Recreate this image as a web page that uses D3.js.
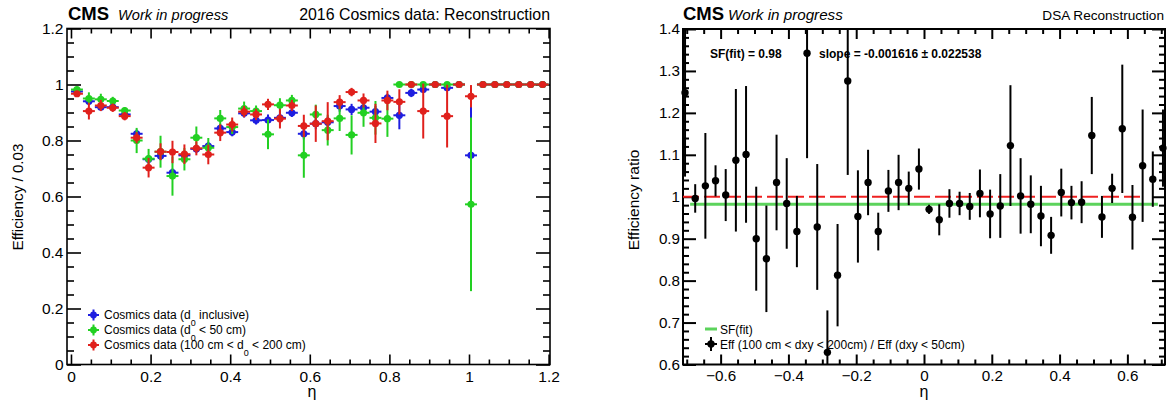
<!DOCTYPE html>
<html>
<head>
<meta charset="utf-8">
<script src="https://cdn.jsdelivr.net/npm/d3@7"></script>
<style>
  html, body { margin: 0; padding: 0; background: #fff; }
  svg text { font-family: "Liberation Sans", Arial, Helvetica, sans-serif; }
</style>
</head>
<body>
<svg id="fig" width="1172" height="405"></svg>
<script>
// ---------- left panel: cosmic reconstruction efficiency per 0.03 in eta ----------
const etaLeft = [0.015, 0.045, 0.075, 0.105, 0.135, 0.165, 0.195, 0.225, 0.255, 0.285,
                 0.315, 0.345, 0.375, 0.405, 0.435, 0.465, 0.495, 0.525, 0.555, 0.585,
                 0.615, 0.645, 0.675, 0.705, 0.735, 0.765, 0.795, 0.825, 0.855, 0.885,
                 0.915, 0.945, 0.975, 1.005, 1.035, 1.065, 1.095, 1.125, 1.155, 1.185];
const binHalfWidth = 0.015;

// d0 inclusive
const effInclusive = [0.975, 0.940, 0.919, 0.919, 0.893, 0.824, 0.733, 0.745, 0.685, 0.747,
                      0.770, 0.780, 0.843, 0.830, 0.897, 0.872, 0.873, 0.881, 0.899, 0.824,
                      0.860, 0.865, 0.923, 0.911, 0.917, 0.903, 0.952, 0.890, 0.970, 0.982,
                      1.000, 0.988, 1.000, 0.747, 1.000, 1.000, 1.000, 1.000, 1.000, 1.000];
const errInclusive = [0.008, 0.010, 0.010, 0.010, 0.010, 0.015, 0.015, 0.015, 0.015, 0.015,
                      0.015, 0.015, 0.015, 0.015, 0.015, 0.015, 0.020, 0.020, 0.015, 0.020,
                      0.020, 0.020, 0.020, 0.020, 0.020, 0.020, 0.015, 0.050, 0.015, 0.012,
                      0.000, 0.010, 0.000, 0.200, 0.000, 0.000, 0.000, 0.000, 0.000, 0.000];
// d0 < 50 cm
const effNear = [0.982, 0.950, 0.947, 0.941, 0.907, 0.800, 0.735, 0.760, 0.673, 0.733,
                 0.810, 0.774, 0.879, 0.848, 0.914, 0.905, 0.822, 0.926, 0.943, 0.747,
                 0.893, 0.837, 0.879, 0.820, 0.899, 0.881, 0.878, 1.000, 1.000, 1.000,
                 1.000, 1.000, 1.000, 0.572, 1.000, 1.000, 1.000, 1.000, 1.000, 1.000];
const errNear = [0.010, 0.022, 0.020, 0.015, 0.012, 0.045, 0.035, 0.057, 0.070, 0.040,
                 0.040, 0.035, 0.030, 0.025, 0.025, 0.020, 0.053, 0.025, 0.020, 0.080,
                 0.035, 0.055, 0.045, 0.070, 0.050, 0.060, 0.065, 0.000, 0.000, 0.000,
                 0.000, 0.000, 0.000, 0.310, 0.000, 0.000, 0.000, 0.000, 0.000, 0.000];
// 100 cm < d0 < 200 cm
const effFar = [0.967, 0.905, 0.925, 0.917, 0.887, 0.810, 0.703, 0.760, 0.759, 0.751,
                0.772, 0.750, 0.828, 0.857, 0.903, 0.893, 0.929, 0.878, 0.925, 0.852,
                0.860, 0.869, 0.937, 0.973, 0.943, 0.861, 0.943, 0.938, 1.000, 0.905,
                1.000, 0.887, 1.000, 0.958, 1.000, 1.000, 1.000, 1.000, 1.000, 1.000];
const errFar = [0.010, 0.030, 0.020, 0.015, 0.015, 0.020, 0.035, 0.030, 0.040, 0.035,
                0.025, 0.035, 0.030, 0.025, 0.020, 0.020, 0.020, 0.035, 0.020, 0.040,
                0.065, 0.068, 0.025, 0.015, 0.025, 0.070, 0.035, 0.045, 0.000, 0.098,
                0.000, 0.112, 0.000, 0.040, 0.000, 0.000, 0.000, 0.000, 0.000, 0.000];

const xTicksLeft = [0, 0.2, 0.4, 0.6, 0.8, 1, 1.2];
const yTicksLeft = [0, 0.2, 0.4, 0.6, 0.8, 1, 1.2];

// ---------- right panel: efficiency ratio far / near ----------
const etaRight = [-0.705, -0.675, -0.645, -0.615, -0.585, -0.555, -0.525, -0.495, -0.465, -0.435,
                  -0.405, -0.375, -0.345, -0.315, -0.285, -0.255, -0.225, -0.195, -0.165, -0.135,
                  -0.105, -0.075, -0.045, -0.015, 0.015, 0.045, 0.075, 0.105, 0.135, 0.165,
                  0.195, 0.225, 0.255, 0.285, 0.315, 0.345, 0.375, 0.405, 0.435, 0.465,
                  0.495, 0.525, 0.555, 0.585, 0.615, 0.645, 0.675, 0.705];
const ratio = [1.248, 0.996, 1.026, 1.038, 1.004, 1.087, 1.101, 0.900, 0.852, 1.034,
               0.984, 0.917, 1.342, 0.928, 0.629, 0.813, 1.276, 0.953, 1.034, 0.917,
               1.014, 1.034, 1.020, 1.066, 0.970, 0.945, 0.984, 0.984, 0.977, 1.008,
               0.959, 0.978, 1.122, 1.002, 0.982, 0.954, 0.908, 1.010, 0.986, 0.987,
               1.146, 0.952, 1.020, 1.162, 0.951, 1.074, 1.042, 1.116];
const ratioErr = [0.200, 0.034, 0.126, 0.037, 0.062, 0.170, 0.163, 0.124, 0.127, 0.114,
                  0.108, 0.085, 0.250, 0.150, 0.100, 0.122, 0.224, 0.110, 0.078, 0.045,
                  0.050, 0.066, 0.040, 0.049, 0.011, 0.037, 0.034, 0.028, 0.032, 0.057,
                  0.058, 0.076, 0.144, 0.090, 0.069, 0.072, 0.044, 0.057, 0.040, 0.050,
                  0.092, 0.050, 0.035, 0.153, 0.077, 0.134, 0.066, 0.092];
const sfFit = 0.98;
const sfFitLine = 0.982;
const sfRange = [-0.69, 0.69];
const unityRange = [-0.711, 0.64];

const xTicksRight = [-0.6, -0.4, -0.2, 0, 0.2, 0.4, 0.6];
const yTicksRight = [0.6, 0.7, 0.8, 0.9, 1, 1.1, 1.2, 1.3, 1.4];

// ---------- drawing ----------
const FONT = '"Liberation Sans", Arial, Helvetica, sans-serif';
const svg = d3.select("#fig");

const xL = d3.scaleLinear().domain([-0.01, 1.2035]).range([67, 550]);
const yL = d3.scaleLinear().domain([0, 1.2]).range([364.5, 28.5]).clamp(true);
const xR = d3.scaleLinear().domain([-0.711, 0.711]).range([683, 1165]);
const yR = d3.scaleLinear().domain([0.6, 1.4]).range([364.5, 29]).clamp(true);

function minorTicks(lo, hi, step, major) {
  return d3.range(lo, hi + step / 2, step)
    .filter(v => major.every(m => Math.abs(v - m) > step / 4));
}

function drawAxes(g, x, y, c) {
  const [yb, yt] = y.range();
  const [xl, xr] = x.range();
  const tidy = s => {
    s.select(".domain").remove();
    s.selectAll(".tick line").attr("stroke", "#000").attr("stroke-width", c.lw);
    s.selectAll(".tick text").attr("font-size", c.fs).attr("fill", "#000")
      .style("font-family", FONT);
  };
  const fmt = d3.format("");
  // bottom
  g.append("g").attr("transform", `translate(0,${yb})`)
    .call(d3.axisBottom(x).tickValues(c.xMajor).tickSizeInner(-c.xMaj).tickSizeOuter(0)
      .tickPadding(c.xPad).tickFormat(fmt)).call(tidy);
  g.append("g").attr("transform", `translate(0,${yb})`)
    .call(d3.axisBottom(x).tickValues(c.xMinor).tickSizeInner(-c.xMin).tickSizeOuter(0)
      .tickFormat("")).call(tidy);
  // top
  g.append("g").attr("transform", `translate(0,${yt})`)
    .call(d3.axisTop(x).tickValues(c.xMajor).tickSizeInner(-c.xMaj).tickSizeOuter(0)
      .tickFormat("")).call(tidy);
  g.append("g").attr("transform", `translate(0,${yt})`)
    .call(d3.axisTop(x).tickValues(c.xMinor).tickSizeInner(-c.xMin).tickSizeOuter(0)
      .tickFormat("")).call(tidy);
  // left
  g.append("g").attr("transform", `translate(${xl},0)`)
    .call(d3.axisLeft(y).tickValues(c.yMajor).tickSizeInner(-c.yMaj).tickSizeOuter(0)
      .tickPadding(c.yPad).tickFormat(fmt)).call(tidy);
  g.append("g").attr("transform", `translate(${xl},0)`)
    .call(d3.axisLeft(y).tickValues(c.yMinor).tickSizeInner(-c.yMin).tickSizeOuter(0)
      .tickFormat("")).call(tidy);
  // right
  g.append("g").attr("transform", `translate(${xr},0)`)
    .call(d3.axisRight(y).tickValues(c.yMajor).tickSizeInner(-c.yMaj).tickSizeOuter(0)
      .tickFormat("")).call(tidy);
  g.append("g").attr("transform", `translate(${xr},0)`)
    .call(d3.axisRight(y).tickValues(c.yMinor).tickSizeInner(-c.yMin).tickSizeOuter(0)
      .tickFormat("")).call(tidy);
  // frame
  g.append("rect").attr("x", xl).attr("y", yt).attr("width", xr - xl).attr("height", yb - yt)
    .attr("fill", "none").attr("stroke", "#000").attr("stroke-width", c.lw);
}

// ----- left panel -----
const gL = svg.append("g");
drawAxes(gL, xL, yL, {
  lw: 1.6, fs: 15.5,
  xMajor: xTicksLeft, xMinor: minorTicks(0, 1.2, 0.05, xTicksLeft), xMaj: 10, xMin: 5, xPad: 6,
  yMajor: yTicksLeft, yMinor: minorTicks(0, 1.2, 0.05, yTicksLeft), yMaj: 14, yMin: 7, yPad: 3.5
});

const colBlue = "#1e1ee0", colGreen = "#22d022", colRed = "#e0201c";
const seriesLeft = [
  { vals: effInclusive, errs: errInclusive, color: colBlue },
  { vals: effNear, errs: errNear, color: colGreen },
  { vals: effFar, errs: errFar, color: colRed }
];

seriesLeft.forEach(s => {
  const g = gL.append("g");
  const pts = etaLeft.map((e, i) => ({ e, v: s.vals[i], err: s.errs[i] }));
  g.selectAll("line.h").data(pts).join("line")
    .attr("x1", d => xL(d.e - binHalfWidth)).attr("x2", d => xL(d.e + binHalfWidth))
    .attr("y1", d => yL(d.v)).attr("y2", d => yL(d.v))
    .attr("stroke", s.color).attr("stroke-width", 2);
  g.selectAll("line.v").data(pts.filter(d => d.err > 0)).join("line")
    .attr("x1", d => xL(d.e)).attr("x2", d => xL(d.e))
    .attr("y1", d => yL(d.v - d.err)).attr("y2", d => yL(d.v + d.err))
    .attr("stroke", s.color).attr("stroke-width", 2);
  g.selectAll("circle").data(pts).join("circle")
    .attr("cx", d => xL(d.e)).attr("cy", d => yL(d.v)).attr("r", 3.6)
    .attr("fill", s.color);
});

// left legend
const legL = gL.append("g");
const legRows = [
  { color: colBlue, pre: "Cosmics data (d", post: " inclusive)", y: 315 },
  { color: colGreen, pre: "Cosmics data (d", post: " < 50 cm)", y: 330 },
  { color: colRed, pre: "Cosmics data (100 cm < d", post: " < 200 cm)", y: 345 }
];
legRows.forEach(r => {
  legL.append("line").attr("x1", 88).attr("x2", 99).attr("y1", r.y).attr("y2", r.y)
    .attr("stroke", r.color).attr("stroke-width", 2);
  legL.append("line").attr("x1", 93.5).attr("x2", 93.5).attr("y1", r.y - 5.5).attr("y2", r.y + 5.5)
    .attr("stroke", r.color).attr("stroke-width", 2);
  legL.append("circle").attr("cx", 93.5).attr("cy", r.y).attr("r", 3.4).attr("fill", r.color);
  const t = legL.append("text").attr("x", 104).attr("y", r.y + 4.3).attr("font-size", 12).attr("fill", "#000");
  t.append("tspan").text(r.pre);
  t.append("tspan").attr("dy", 6.5).attr("font-size", 9).text("0");
  t.append("tspan").attr("dy", -6.5).text(r.post);
});

// left header and titles
gL.append("text").attr("x", 68).attr("y", 20).attr("font-size", 18.5).attr("font-weight", "bold").text("CMS");
gL.append("text").attr("x", 118).attr("y", 20).attr("font-size", 14.6).attr("font-style", "italic").text("Work in progress");
gL.append("text").attr("x", 550).attr("y", 20).attr("font-size", 15.9).attr("text-anchor", "end")
  .text("2016 Cosmics data: Reconstruction");
gL.append("text").attr("transform", "translate(23,197) rotate(-90)").attr("text-anchor", "middle")
  .attr("font-size", 15.2).text("Efficiency / 0.03");
gL.append("text").attr("x", 312).attr("y", 397).attr("text-anchor", "middle").attr("font-size", 16).text("η");

// ----- right panel -----
const gR = svg.append("g");
drawAxes(gR, xR, yR, {
  lw: 2, fs: 15.2,
  xMajor: xTicksRight, xMinor: minorTicks(-0.7, 0.7, 0.05, xTicksRight), xMaj: 10, xMin: 5, xPad: 6,
  yMajor: yTicksRight, yMinor: minorTicks(0.6, 1.4, 0.02, yTicksRight), yMaj: 13, yMin: 6, yPad: 3
});

// reference lines: unity (dashed red) and fitted scale factor (green)
gR.append("line").attr("x1", xR(unityRange[0])).attr("x2", xR(unityRange[1]))
  .attr("y1", yR(1)).attr("y2", yR(1))
  .attr("stroke", "#ee2020").attr("stroke-width", 2).attr("stroke-dasharray", "16,5");
gR.append("line").attr("x1", xR(sfRange[0])).attr("x2", xR(sfRange[1]))
  .attr("y1", yR(sfFitLine)).attr("y2", yR(sfFitLine))
  .attr("stroke", "#5cd35c").attr("stroke-width", 3);

const ptsR = etaRight.map((e, i) => ({ e, v: ratio[i], err: ratioErr[i] }));
gR.append("g").selectAll("line").data(ptsR).join("line")
  .attr("x1", d => xR(d.e)).attr("x2", d => xR(d.e))
  .attr("y1", d => yR(d.v - d.err)).attr("y2", d => yR(d.v + d.err))
  .attr("stroke", "#000").attr("stroke-width", 2);
gR.append("g").selectAll("circle").data(ptsR).join("circle")
  .attr("cx", d => xR(d.e)).attr("cy", d => yR(d.v)).attr("r", 3.7).attr("fill", "#000");

// fit annotations
gR.append("text").attr("x", 710).attr("y", 58).attr("font-size", 12).attr("font-weight", "bold")
  .text(`SF(fit) = ${sfFit.toFixed(2)}`);
gR.append("text").attr("x", 819).attr("y", 58).attr("font-size", 12).attr("font-weight", "bold")
  .text("slope = -0.001616 ± 0.022538");

// right legend
gR.append("line").attr("x1", 705).attr("x2", 717).attr("y1", 329).attr("y2", 329)
  .attr("stroke", "#5cd35c").attr("stroke-width", 3);
gR.append("text").attr("x", 720).attr("y", 333.5).attr("font-size", 12).text("SF(fit)");
gR.append("line").attr("x1", 705).attr("x2", 717).attr("y1", 344).attr("y2", 344)
  .attr("stroke", "#000").attr("stroke-width", 2);
gR.append("line").attr("x1", 711).attr("x2", 711).attr("y1", 337).attr("y2", 351)
  .attr("stroke", "#000").attr("stroke-width", 2);
gR.append("circle").attr("cx", 711).attr("cy", 344).attr("r", 3.7).attr("fill", "#000");
gR.append("text").attr("x", 720).attr("y", 348.5).attr("font-size", 12)
  .text("Eff (100 cm < dxy < 200cm) / Eff (dxy < 50cm)");

// right header and titles
gR.append("text").attr("x", 683).attr("y", 20).attr("font-size", 18.5).attr("font-weight", "bold").text("CMS");
gR.append("text").attr("x", 728).attr("y", 20).attr("font-size", 15.2).attr("font-style", "italic").text("Work in progress");
gR.append("text").attr("x", 1164).attr("y", 20).attr("font-size", 13.6).attr("text-anchor", "end")
  .text("DSA Reconstruction");
gR.append("text").attr("transform", "translate(639,200) rotate(-90)").attr("text-anchor", "middle")
  .attr("font-size", 15.5).text("Efficiency ratio");
gR.append("text").attr("x", 924).attr("y", 397).attr("text-anchor", "middle").attr("font-size", 16).text("η");
</script>
</body>
</html>
